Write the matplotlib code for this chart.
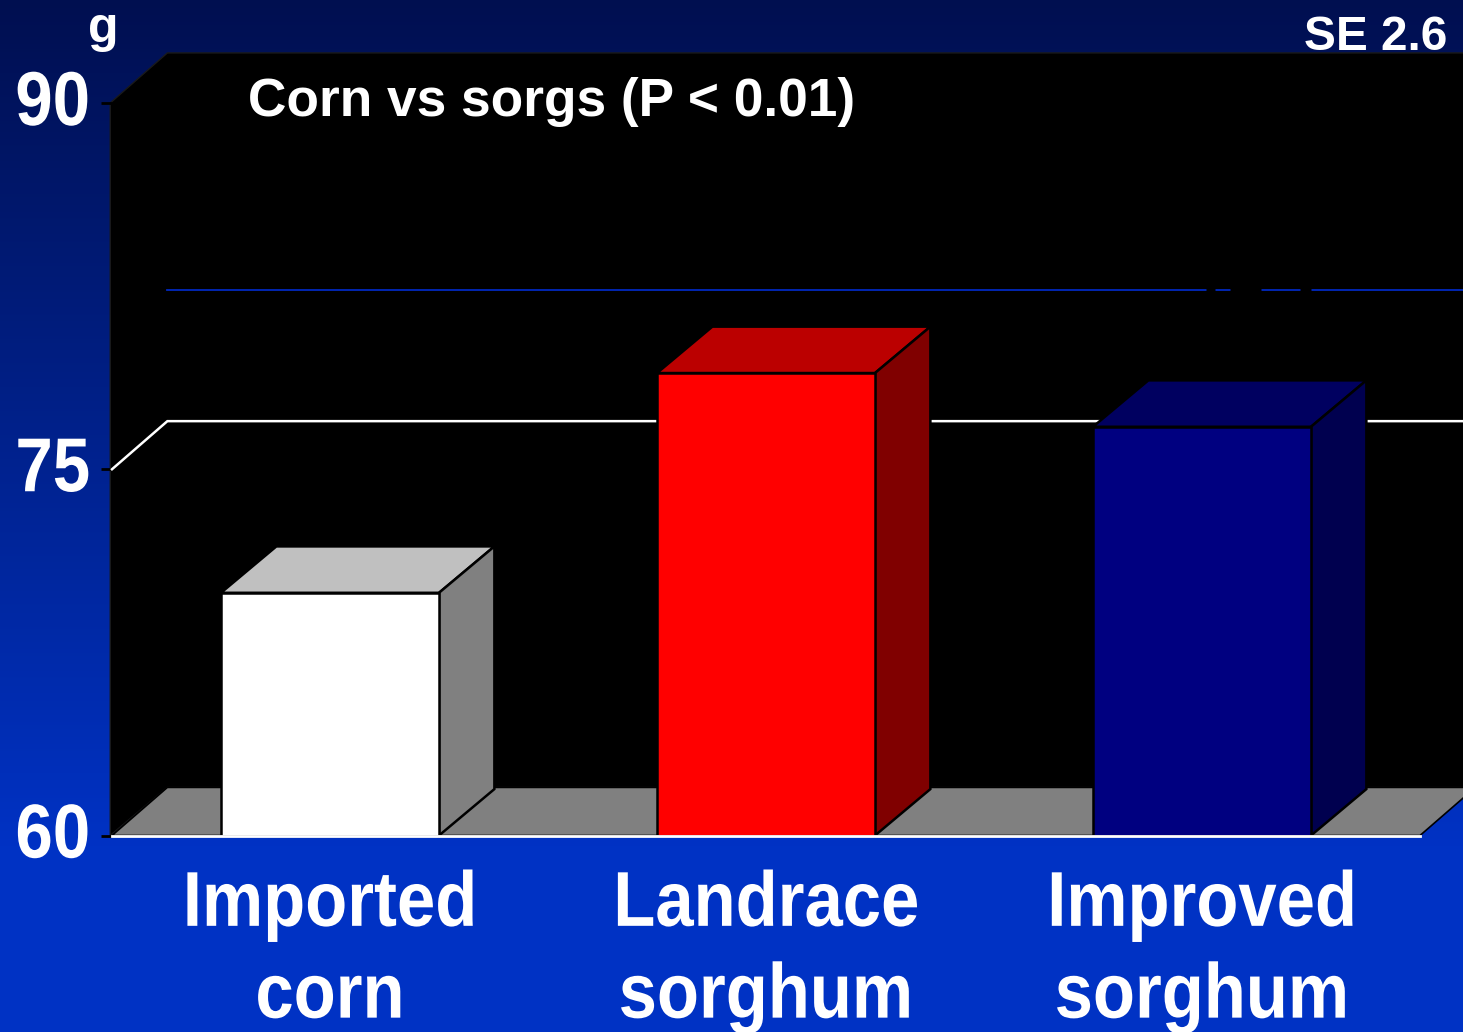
import numpy as np
import matplotlib
matplotlib.use("Agg")
import matplotlib.pyplot as plt
from matplotlib.patches import Polygon
from matplotlib.patheffects import AbstractPathEffect
from matplotlib.transforms import Affine2D

# Chart data
categories = ["Imported\ncorn", "Landrace\nsorghum", "Improved\nsorghum"]
values = [69.94, 78.94, 76.74]
y_ticks = [60, 75, 90]
blue_gridline = 80.38
hidden_marks = [(2.01, 2.03), (2.065, 2.135), (2.225, 2.25)]

# Colours per bar: front, top, side
front_colors = ["#ffffff", "#ff0000", "#000080"]
top_colors = ["#c0c0c0", "#bb0000", "#000060"]
side_colors = ["#808080", "#800000", "#00004f"]

# Layout
FIG_W, FIG_H = 1463, 1032
AX_LEFT, AX_RIGHT = 112, 1420
AX_TOP, AX_BOTTOM = 103, 835.5
BAR_WIDTH = 0.5
DEPTH_X = 0.127
DEPTH_Y = 1.9
WALL_DY = 1.97
WALL_TOP_DY = 2.05
FONT = ["Liberation Sans", "DejaVu Sans"]


class SqueezeX(AbstractPathEffect):
    """Narrow text horizontally around its centre or right edge, with an optional lift."""

    def __init__(self, factor, anchor="center", lift=0):
        super().__init__()
        self.factor = factor
        self.anchor = anchor
        self.lift = lift

    def draw_path(self, renderer, gc, tpath, affine, rgbFace=None):
        ext = tpath.get_extents(affine)
        ref = ext.x1 if self.anchor == "right" else (ext.x0 + ext.x1) / 2
        squeeze = Affine2D().translate(-ref, 0).scale(self.factor, 1).translate(ref, self.lift)
        renderer.draw_path(gc, tpath, affine + squeeze, rgbFace)


fig = plt.figure(figsize=(FIG_W / 100, FIG_H / 100), dpi=100)

# Background gradient
bg = fig.add_axes([0, 0, 1, 1])
bg.axis("off")
t = np.clip(np.linspace(0, 1, FIG_H) / 0.82, 0, 1)[:, None]
top_rgb = np.array([0, 15, 80]) / 255
bottom_rgb = np.array([0, 50, 196]) / 255
bg.imshow((top_rgb + t * (bottom_rgb - top_rgb))[:, None, :].reshape(FIG_H, 1, 3), aspect="auto")

ax = fig.add_axes([AX_LEFT / FIG_W, 1 - AX_BOTTOM / FIG_H,
                   (AX_RIGHT - AX_LEFT) / FIG_W, (AX_BOTTOM - AX_TOP) / FIG_H])
ax.patch.set_visible(False)
ax.set_xlim(-0.5, 2.5)
ax.set_ylim(y_ticks[0], y_ticks[-1])
x0, x1 = ax.get_xlim()
y0, y1 = ax.get_ylim()
dx = DEPTH_X


def add_poly(points, color, edge="none", lw=0, z=1):
    ax.add_patch(Polygon(points, closed=True, facecolor=color, edgecolor=edge,
                         linewidth=lw, clip_on=False, zorder=z, joinstyle="miter"))


# Walls and floor
add_poly([(x0 - 0.004, y0), (x0 - 0.004, y1), (x0 + dx, y1 + WALL_TOP_DY),
          (x1 + dx, y1 + WALL_TOP_DY), (x1 + dx, y0 + WALL_DY), (x0 + dx, y0 + WALL_DY)],
         "#000000", edge="#1a1a1a", lw=1, z=1)
add_poly([(x0, y0), (x0 + dx, y0 + WALL_DY), (x1 + dx, y0 + WALL_DY), (x1, y0)],
         "#808080", edge="#000000", lw=1.2, z=2)

# Gridlines, the blue one only runs along the back wall
ax.plot([x0, x0 + dx, x1 + dx], [y_ticks[1], y_ticks[1] + WALL_DY, y_ticks[1] + WALL_DY],
        color="white", lw=1.8, clip_on=False, zorder=3, solid_joinstyle="miter")
blue_y = blue_gridline + WALL_DY
ax.plot([x0 + dx, x1 + dx], [blue_y, blue_y], color="#0028c0", lw=1.3,
        clip_on=False, zorder=3)
for start, end in hidden_marks:
    ax.plot([start, end], [blue_y, blue_y], color="black", lw=2.5,
            solid_capstyle="butt", zorder=4)

# Bars
positions = np.arange(len(categories))
ax.bar(positions, np.array(values) - y0, BAR_WIDTH, bottom=y0, color=front_colors,
       edgecolor="black", linewidth=1.8, zorder=6)
for pos, val, top_c, side_c in zip(positions, values, top_colors, side_colors):
    left, right = pos - BAR_WIDTH / 2, pos + BAR_WIDTH / 2
    add_poly([(left, val), (left + dx, val + DEPTH_Y), (right + dx, val + DEPTH_Y), (right, val)],
             top_c, edge="black", lw=1.8, z=5)
    add_poly([(right, val), (right + dx, val + DEPTH_Y), (right + dx, y0 + DEPTH_Y), (right, y0)],
             side_c, edge="black", lw=1.8, z=5)

# Axes
for name in ["top", "left", "right"]:
    ax.spines[name].set_visible(False)
ax.spines["bottom"].set_color("white")
ax.spines["bottom"].set_linewidth(2)
ax.spines["bottom"].set_zorder(8)
ax.set_yticks(y_ticks)
ax.set_xticks(positions)
x_labels = ax.set_xticklabels(categories, family=FONT, fontweight="bold", fontsize=56,
                              color="white", linespacing=1.33)
y_labels = ax.set_yticklabels([str(v) for v in y_ticks], family=FONT, fontweight="bold",
                              fontsize=55, color="white")
for label in x_labels:
    label.set_path_effects([SqueezeX(0.885)])
for label in y_labels:
    label.set_path_effects([SqueezeX(0.88, anchor="right", lift=5.5)])
ax.tick_params(axis="y", length=8, width=2, color="black", pad=7.5)
ax.tick_params(axis="x", length=0, pad=24)

# Annotations
fig.text(248 / FIG_W, 1 - 102 / FIG_H, "Corn vs sorgs (P < 0.01)", family=FONT,
         fontweight="bold", fontsize=38.35, color="white", ha="left", va="center")
fig.text(1447 / FIG_W, 1 - 38 / FIG_H, "SE 2.6", family=FONT, fontweight="bold",
         fontsize=34.4, color="white", ha="right", va="center")
fig.text(103 / FIG_W, 1 - 29 / FIG_H, "g", family=FONT, fontweight="bold",
         fontsize=36, color="white", ha="center", va="center")

fig.savefig("out.png", dpi=100)
